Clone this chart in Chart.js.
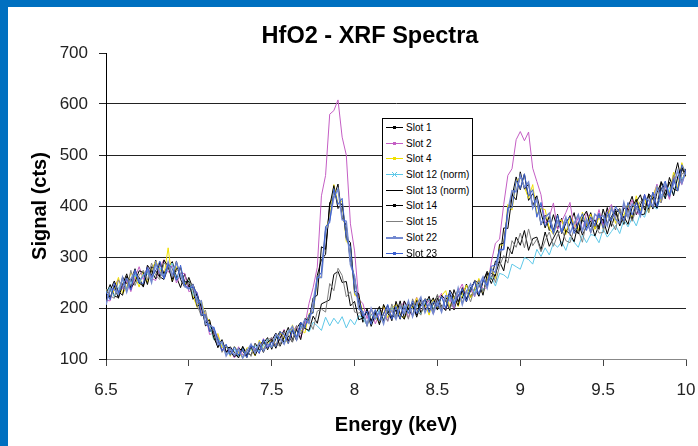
<!DOCTYPE html>
<html>
<head>
<meta charset="utf-8">
<script src="https://cdn.jsdelivr.net/npm/chart.js@4"></script>
<style>
  body { margin: 0; background: #fff; font-family: "Liberation Sans", Arial, sans-serif; }
  #wrap { position: relative; width: 698px; height: 446px; overflow: hidden; background: #fff; }
  #chart { position: absolute; left: 0; top: 0; }
  .band-top { position: absolute; left: 0; top: 0; width: 698px; height: 7px; background: #0070c0; }
  .band-left { position: absolute; left: 0; top: 0; width: 8px; height: 446px; background: #0070c0; }
  #title { position: absolute; left: 370px; top: 24px; transform: translateX(-50%); font-weight: bold; font-size: 23.5px; line-height: 22px; white-space: nowrap; color: #000; }
  #legend { position: absolute; left: 382px; top: 118px; width: 89px; height: 137px; padding-top: 1px; border: 1px solid #000; background: #fff; }
  .row { position: relative; height: 15.7px; font-size: 10px; line-height: 15.7px; color: #000; white-space: nowrap; }
  .sample { position: absolute; left: 3px; top: 7px; width: 17px; height: 0; border-top: 1px solid; }
  .dot { position: absolute; left: 10px; top: 6px; width: 3px; height: 3px; }
  .label { position: absolute; left: 23px; top: 0; }
</style>
</head>
<body>
<div id="wrap">
  <canvas id="chart" width="698" height="446"></canvas>
  <div id="title">HfO2 - XRF Spectra</div>
  <div id="legend"></div>
  <div class="band-top"></div>
  <div class="band-left"></div>
</div>
<script>
// energy grid: 6.5 .. 10.0 keV, one reading every 0.025 keV
const energyStart = 6.5;
const energyStep = 0.025;
const energyCount = 141;

const xTickValues = [6.5, 7, 7.5, 8, 8.5, 9, 9.5, 10];
const xTickLabels = ["6.5", "7", "7.5", "8", "8.5", "9", "9.5", "10"];
const yTickValues = [100, 200, 300, 400, 500, 600, 700];
const yTickLabels = ["100", "200", "300", "400", "500", "600", "700"];

const seriesNames = ["Slot 1", "Slot 2", "Slot 4", "Slot 12 (norm)", "Slot 13 (norm)", "Slot 14", "Slot 15", "Slot 22", "Slot 23"];

const slot1 = [
  226,246,223,221,261,248,238,270,260,241,
  273,264,294,261,256,280,291,261,240,267,
  241,247,223,185,186,154,159,137,117,123,
  122,105,108,123,113,107,131,117,131,142,
  119,140,154,131,145,133,160,172,160,186,
  192,264,295,305,407,417,443,377,362,290,
  259,210,172,199,173,192,170,189,205,181,
  186,214,180,199,209,182,208,217,194,207,
  225,197,216,229,196,226,219,247,221,238,
  223,252,272,256,292,289,357,356,418,457,
  432,463,411,424,413,363,382,352,383,355,
  376,348,365,387,345,373,363,387,355,382,
  364,397,360,385,395,364,398,419,383,402,
  421,393,421,395,448,431,417,452,485,445,
  473
];
const slot2 = [
  215,214,243,256,237,254,232,260,281,256,
  281,258,254,280,295,270,284,249,267,268,
  232,236,231,191,189,148,151,147,119,116,
  119,102,124,108,107,126,120,111,140,123,
  142,126,140,158,130,153,165,142,166,209,
  240,280,420,460,580,587,608,535,500,365,
  312,217,209,179,200,169,187,201,174,197,
  180,200,213,181,200,221,192,200,218,188,
  216,229,197,217,199,232,247,217,236,222,
  256,237,240,290,327,335,403,460,473,530,
  546,528,545,474,448,422,366,378,406,354,
  370,387,407,355,378,352,387,374,362,393,
  361,387,403,375,365,401,392,412,386,383,
  423,399,418,443,407,439,413,458,456,442,
  470
];
const slot4 = [
  238,222,235,260,228,241,269,262,241,272,
  250,275,292,276,264,318,253,281,264,246,
  256,224,201,215,184,175,138,150,122,127,
  105,125,112,102,122,120,106,137,120,130,
  138,124,152,142,130,167,144,157,151,189,
  190,255,263,355,377,442,405,410,330,322,
  225,221,192,166,197,183,172,205,181,199,
  208,185,179,206,200,220,188,208,186,218,
  201,224,234,201,224,203,226,245,220,236,
  258,229,257,280,258,324,323,403,392,448,
  457,437,415,442,384,395,393,356,344,368,
  373,344,381,364,351,388,360,384,354,380,
  355,381,398,366,392,381,406,375,420,391,
  415,387,420,439,408,444,424,466,435,485,
  457
];
const slot12 = [
  230,241,222,239,255,238,248,266,247,267,
  267,255,284,279,265,276,288,255,267,250,
  255,226,219,207,172,169,138,142,128,111,
  110,119,105,121,110,118,127,114,126,139,
  123,144,139,131,156,152,142,165,161,153,
  172,165,156,182,165,180,169,183,161,178,
  167,185,180,166,188,178,197,177,192,201,
  182,199,207,189,199,209,188,210,218,199,
  211,221,201,221,210,233,225,217,241,230,
  251,234,252,261,243,268,265,258,286,281,
  276,299,295,286,315,301,318,304,327,319,
  330,313,339,329,319,343,328,344,342,328,
  355,339,350,362,346,373,359,377,361,386,
  378,402,400,394,423,415,436,422,457,454,
  464
];
const slot13 = [
  210,234,253,232,225,262,252,277,249,243,
  284,272,257,290,267,285,251,277,278,251,
  252,217,227,201,170,177,142,124,138,114,
  115,104,121,116,103,127,115,129,113,133,
  139,121,141,156,135,157,136,171,160,156,
  184,170,208,212,216,266,272,250,252,204,
  213,177,180,193,164,187,203,174,196,175,
  213,189,178,207,204,186,218,196,207,220,
  196,225,216,195,236,212,234,212,239,252,
  224,253,269,248,267,291,273,320,306,339,
  323,352,313,336,339,314,349,321,337,353,
  321,352,345,330,368,343,360,371,341,363,
  375,345,374,390,361,380,364,398,413,383,
  384,424,414,396,436,414,456,433,430,473,
  458
];
const slot14 = [
  241,220,244,219,246,267,239,251,273,270,
  246,281,273,260,294,281,257,292,256,241,
  260,238,203,208,165,171,152,122,136,113,
  124,113,102,125,106,124,107,125,137,118,
  136,151,125,143,162,138,158,138,179,176,
  220,225,320,315,400,440,395,405,338,328,
  233,228,179,195,175,193,167,207,189,180,
  197,178,214,198,185,215,191,206,223,192,
  219,204,195,235,222,205,240,218,233,254,
  248,225,266,268,263,325,327,390,422,412,
  467,433,443,400,420,386,357,380,352,384,
  346,366,381,352,347,377,390,359,373,354,
  394,366,379,394,362,396,394,373,408,422,
  392,423,394,426,446,421,447,420,457,476,
  462
];
const slot15 = [
  237,224,219,255,242,237,274,244,264,274,
  255,288,264,256,288,283,260,272,280,243,
  249,244,206,184,196,158,157,141,113,128,
  108,124,114,104,120,105,130,124,118,137,
  142,128,127,154,148,134,166,149,167,175,
  158,194,198,192,248,234,278,264,222,232,
  192,190,194,164,187,195,173,188,174,208,
  181,207,199,178,218,196,186,219,212,193,
  227,199,218,198,218,237,210,235,212,240,
  254,231,254,277,250,282,303,288,332,319,
  347,318,355,322,335,310,332,349,321,343,
  355,332,328,356,352,329,371,347,367,347,
  348,382,370,353,394,368,392,370,394,409,
  406,387,427,415,406,442,421,461,429,463,
  466
];
const slot22 = [
  206,238,236,227,260,231,257,271,253,263,
  275,250,289,269,260,290,264,289,265,242,
  237,245,210,214,169,167,161,128,134,106,
  120,107,120,102,115,129,112,132,116,129,
  124,148,140,129,152,164,138,159,177,170,
  212,260,260,350,373,417,433,373,370,285,
  262,198,193,167,199,179,192,169,201,194,
  178,203,189,214,183,207,221,191,209,189,
  212,192,224,222,204,239,207,232,247,225,
  244,261,239,277,269,312,315,390,430,428,
  460,437,447,396,414,365,378,386,347,370,
  351,378,346,366,383,351,374,349,384,377,
  381,361,396,374,366,407,378,404,398,380,
  417,411,399,437,414,443,421,443,469,445,
  469
];
const slot23 = [
  232,216,249,230,242,259,235,275,250,248,
  280,260,273,292,257,286,277,254,284,245,
  239,241,229,186,187,153,163,139,116,129,
  107,124,107,119,103,126,122,111,139,122,
  133,124,153,148,130,158,143,172,161,187,
  190,258,270,360,367,434,403,415,335,320,
  230,218,184,194,168,197,175,188,207,178,
  203,179,203,190,214,189,203,217,191,213,
  203,223,199,232,208,222,238,213,237,252,
  226,256,244,282,284,315,315,397,396,450,
  434,463,419,432,378,407,361,372,346,382,
  348,369,379,346,368,385,352,379,361,386,
  356,388,371,399,386,371,407,382,407,384,
  423,397,427,399,431,449,419,452,430,481,
  465
];
const seriesValues = [slot1, slot2, slot4, slot12, slot13, slot14, slot15, slot22, slot23];

// look of each series (line colour, width, legend marker)
const seriesStyles = [
  { color: "#000000", width: 1, marker: "dot" },
  { color: "#c45ec4", width: 1, marker: "dot" },
  { color: "#f0e000", width: 1, marker: "dot" },
  { color: "#5ec8e8", width: 1, marker: "cross" },
  { color: "#000000", width: 1, marker: null },
  { color: "#000000", width: 1, marker: "dot" },
  { color: "#7f7f7f", width: 1, marker: null },
  { color: "#7389d0", width: 1.5, marker: "dot" },
  { color: "#3a5fd0", width: 1, marker: "dot" }
];

const energies = [];
for (let i = 0; i < energyCount; i++) energies.push(+(energyStart + i * energyStep).toFixed(3));

const fontFamily = '"Liberation Sans", Arial, sans-serif';

const datasets = seriesNames.map((name, k) => ({
  label: name,
  data: energies.map((e, i) => ({ x: e, y: seriesValues[k][i] })),
  borderColor: seriesStyles[k].color,
  backgroundColor: seriesStyles[k].color,
  borderWidth: seriesStyles[k].width,
  pointRadius: 0,
  fill: false,
  tension: 0,
  // later slots sit on top, like the spreadsheet
  order: seriesNames.length - k
}));

new Chart(document.getElementById("chart"), {
  type: "line",
  data: { datasets },
  options: {
    responsive: false,
    animation: false,
    devicePixelRatio: 1,
    layout: { padding: { left: 10, right: 12, top: 53, bottom: 2 } },
    plugins: {
      legend: { display: false },
      tooltip: { enabled: false },
      title: { display: false }
    },
    scales: {
      x: {
        type: "linear",
        min: 6.5,
        max: 10,
        afterBuildTicks: (s) => { s.ticks = xTickValues.map((v) => ({ value: v })); },
        afterFit: (s) => {
          s.height = 85;
          // the "10" label may hang past the plot edge
          s.paddingRight = 0;
          s.paddingLeft = 0;
        },
        grid: { drawOnChartArea: false, drawTicks: true, tickLength: 7, tickColor: "#444" },
        border: { color: "#888", width: 1 },
        ticks: {
          font: { family: fontFamily, size: 17 },
          color: "#222",
          padding: 14,
          maxRotation: 0,
          autoSkip: false,
          callback: (v, i) => xTickLabels[i]
        },
        title: {
          display: true,
          text: "Energy (keV)",
          font: { family: fontFamily, size: 20, weight: "bold" },
          color: "#000",
          padding: { top: 4, bottom: 7 }
        }
      },
      y: {
        min: 100,
        max: 700,
        afterBuildTicks: (s) => { s.ticks = yTickValues.map((v) => ({ value: v })); },
        afterFit: (s) => { s.width = 96; },
        grid: {
          color: (ctx) => ctx.tick.value === 700 ? "rgba(0,0,0,0)" : ctx.tick.value === 100 ? "#888" : "#222",
          tickColor: "#222",
          tickLength: 7,
          lineWidth: 1
        },
        border: { color: "#000", width: 1 },
        ticks: {
          font: { family: fontFamily, size: 17 },
          color: "#222",
          padding: 11,
          callback: (v, i) => yTickLabels[i]
        },
        title: {
          display: true,
          text: "Signal (cts)",
          font: { family: fontFamily, size: 20, weight: "bold" },
          color: "#000",
          padding: { top: 18, bottom: 0 }
        }
      }
    }
  }
});

// legend box inside the plot
const legend = document.getElementById("legend");
seriesNames.forEach((name, k) => {
  const st = seriesStyles[k];
  const row = document.createElement("div");
  row.className = "row";
  let mark = "";
  if (st.marker === "dot") {
    mark = `<div class="dot" style="background:${st.color}"></div>`;
  } else if (st.marker === "cross") {
    mark = `<svg style="position:absolute;left:9px;top:5px" width="5" height="5"><path d="M0 0L5 5M5 0L0 5" stroke="${st.color}" stroke-width="1"/></svg>`;
  }
  row.innerHTML = `<div class="sample" style="border-top:${st.width > 1 ? 2 : 1}px solid ${st.color}"></div>${mark}<span class="label">${name}</span>`;
  legend.appendChild(row);
});
</script>
</body>
</html>
